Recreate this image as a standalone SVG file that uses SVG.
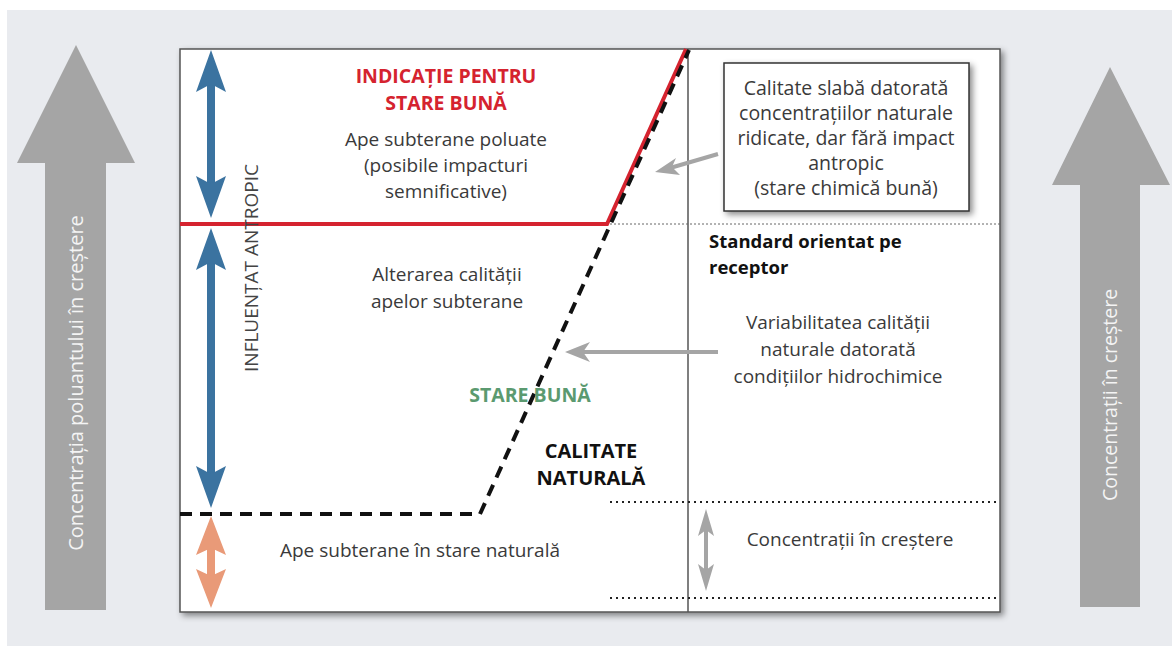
<svg xmlns="http://www.w3.org/2000/svg" width="1172" height="653" viewBox="0 0 1172 653">
<style>
.t{font-family:"Open Sans","Liberation Sans",sans-serif;font-size:19px;fill:#3a3a3a;text-anchor:middle}
.b{font-weight:bold;font-size:19.5px}
.w{fill:#f4f4f4;font-size:20px}
.bx{font-size:19.5px}
.big{fill:#a5a5a5}
.gl{stroke:#a5a5a5;stroke-width:4;fill:none}
</style>
<defs>
<filter id="sh" x="-5%" y="-5%" width="112%" height="115%">
<feDropShadow dx="3" dy="3" stdDeviation="3" flood-color="#000" flood-opacity="0.45"/>
</filter>
</defs>
<rect x="0" y="0" width="1172" height="653" fill="#ffffff"/>
<rect x="7" y="10" width="1165" height="636" fill="#e9ebef"/>
<g id="arrow-left">
<polygon class="big" points="76,45 135,163 106,163 106,610 45,610 45,163 17,163"/>
<text class="t w" transform="translate(83,383) rotate(-90)">Concentrația poluantului în creștere</text>
</g>
<g id="arrow-right">
<polygon class="big" points="1110,67 1170,185 1140,185 1140,607 1080,607 1080,185 1052,185"/>
<text class="t w" transform="translate(1117,395) rotate(-90)" style="font-size:19.5px">Concentrații în creștere</text>
</g>
<g id="main-box">
<rect x="180" y="49" width="820" height="563" fill="#ffffff" stroke="#555" stroke-width="1.5" filter="url(#sh)"/>
<line x1="688" y1="49" x2="688" y2="612" stroke="#555" stroke-width="1.5"/>
</g>
<g id="connectors">
<line x1="610" y1="224" x2="1000" y2="224" stroke="#666" stroke-width="1" stroke-dasharray="2,2"/>
<line x1="610" y1="502" x2="1000" y2="502" stroke="#222" stroke-width="2" stroke-dasharray="2,4"/>
<line x1="610" y1="598" x2="1000" y2="598" stroke="#222" stroke-width="2" stroke-dasharray="2,4"/>
<polyline points="180,224 607,224 686,49" fill="none" stroke="#d5232f" stroke-width="4"/>
<polyline points="180,514 480,514 689,50" fill="none" stroke="#111" stroke-width="4" stroke-dasharray="12,8"/>
<g id="blue-arrow-1">
<line x1="211" y1="80" x2="211" y2="190" stroke="#3b73a0" stroke-width="8"/>
<polygon points="211,50 226,92 211,84 196,92" fill="#3b73a0"/>
<polygon points="211,218 226,176 211,184 196,176" fill="#3b73a0"/>
</g>
<g id="blue-arrow-2">
<line x1="211" y1="258" x2="211" y2="480" stroke="#3b73a0" stroke-width="8"/>
<polygon points="211,228 226,270 211,262 196,270" fill="#3b73a0"/>
<polygon points="211,508 226,466 211,474 196,466" fill="#3b73a0"/>
</g>
<g id="orange-arrow">
<line x1="211" y1="540" x2="211" y2="585" stroke="#e99a78" stroke-width="8"/>
<polygon points="211,516 226,555 211,548 196,555" fill="#e99a78"/>
<polygon points="211,608 226,569 211,576 196,569" fill="#e99a78"/>
</g>
<g id="gray-arrow-range">
<line x1="706" y1="525" x2="706" y2="575" stroke="#a5a5a5" stroke-width="4"/>
<polygon points="706,509 714,536 706,530 698,536" fill="#a5a5a5"/>
<polygon points="706,591 714,564 706,570 698,564" fill="#a5a5a5"/>
</g>
<line class="gl" x1="718" y1="154" x2="670" y2="168"/>
<polygon points="655,172 676,158 672,167 680,175" fill="#a5a5a5"/>
<line class="gl" x1="718" y1="352" x2="580" y2="352"/>
<polygon points="565,352 590,342 583,352 590,362" fill="#a5a5a5"/>
</g>
<g id="polluted">
<text class="t b" x="446" y="83" style="fill:#d5232f">INDICAȚIE PENTRU</text>
<text class="t b" x="446" y="110" style="fill:#d5232f">STARE BUNĂ</text>
<text class="t" x="446" y="146">Ape subterane poluate</text>
<text class="t" x="446" y="172">(posibile impacturi</text>
<text class="t" x="446" y="198">semnificative)</text>
</g>
<g id="influentat">
<text class="t" transform="translate(258,268) rotate(-90)" style="fill:#444;font-size:19px">INFLUENȚAT ANTROPIC</text>
</g>
<g id="alterarea">
<text class="t" x="447" y="281">Alterarea calității</text>
<text class="t" x="447" y="308">apelor subterane</text>
</g>
<g id="stare-buna">
<text class="t b" x="530" y="402" style="fill:#5b9a70">STARE BUNĂ</text>
</g>
<g id="calitate-naturala">
<text class="t b" x="591" y="458" style="fill:#111;font-size:20px">CALITATE</text>
<text class="t b" x="591" y="485" style="fill:#111;font-size:20px">NATURALĂ</text>
</g>
<g id="natural">
<text class="t" x="420" y="557">Ape subterane în stare naturală</text>
</g>
<g id="weak-quality">
<rect x="724" y="63" width="245" height="148" fill="#ffffff" stroke="#333" stroke-width="1.5" filter="url(#sh)"/>
<text class="t bx" x="846" y="95">Calitate slabă datorată</text>
<text class="t bx" x="846" y="120">concentrațiilor naturale</text>
<text class="t bx" x="846" y="145">ridicate, dar fără impact</text>
<text class="t bx" x="846" y="170">antropic</text>
<text class="t bx" x="846" y="195">(stare chimică bună)</text>
</g>
<g id="standard">
<text class="t b" x="709" y="248" style="text-anchor:start;fill:#111;font-size:18.5px">Standard orientat pe</text>
<text class="t b" x="709" y="274" style="text-anchor:start;fill:#111;font-size:18.5px">receptor</text>
</g>
<g id="variabilitate">
<text class="t" x="838" y="329">Variabilitatea calității</text>
<text class="t" x="838" y="356">naturale datorată</text>
<text class="t" x="838" y="383">condițiilor hidrochimice</text>
</g>
<g id="concentratii">
<text class="t" x="850" y="546">Concentrații în creștere</text>
</g>
</svg>
